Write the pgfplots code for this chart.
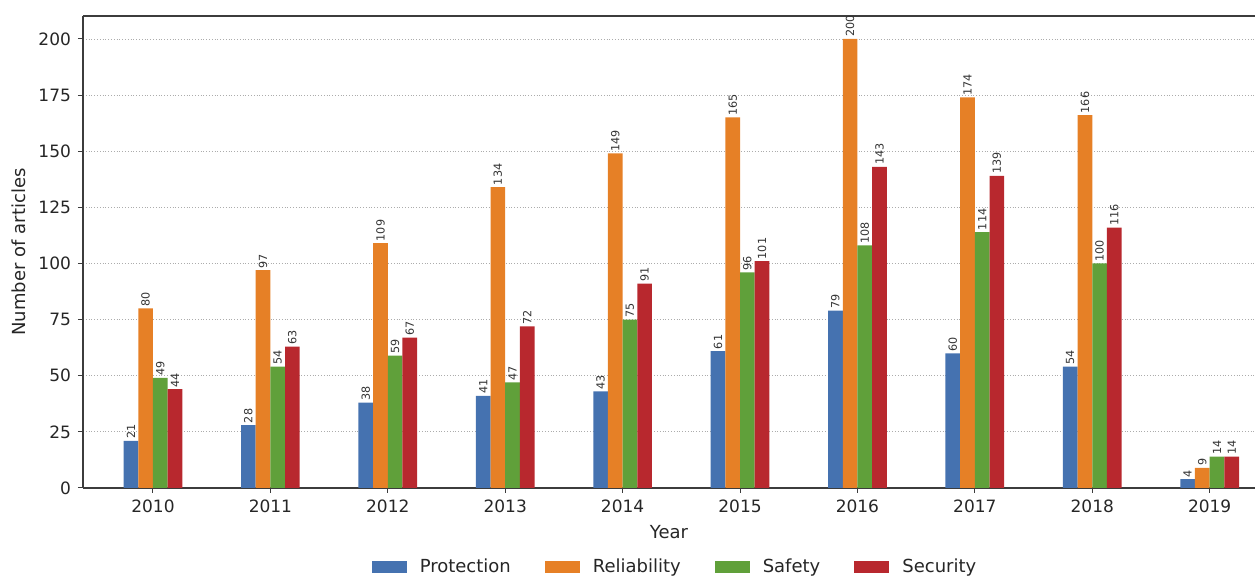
\documentclass[border=0pt]{standalone}
\usepackage{pgfplots}
\pgfplotsset{compat=1.18}
\usepackage{fontspec}
\setmainfont{DejaVu Sans}
\definecolor{cP}{RGB}{69,114,176}
\definecolor{cR}{RGB}{230,128,38}
\definecolor{cS}{RGB}{96,160,58}
\definecolor{cX}{RGB}{184,40,46}
\definecolor{axc}{RGB}{60,60,60}
\begin{document}
\begin{tikzpicture}
\path[use as bounding box] (-41.5pt,-44.5pt) rectangle (586pt,244pt);
\begin{axis}[
  scale only axis,
  width=586pt, height=236pt,
  ybar=0pt, bar width=7.34pt,
  xmin=-0.596, xmax=9.386,
  ymin=0, ymax=210.2,
  xtick={0,...,9},
  xticklabels={2010,2011,2012,2013,2014,2015,2016,2017,2018,2019},
  ytick={0,25,...,200},
  axis x line*=box,
  axis y line*=left,
  axis line style={axc, line width=0.6pt},
  tick style={axc, line width=0.5pt},
  tick align=outside,
  major tick length=2.5pt,
  xtick pos=bottom, ytick pos=left,
  ymajorgrids,
  grid style={densely dotted, gray!65, line width=0.4pt},
  /pgf/number format/assume math mode=true,
  tick label style={font=\fontsize{8.5}{9.5}\selectfont, text=black!85},
  xlabel={Year}, ylabel={Number of articles},
  label style={font=\fontsize{9}{10}\selectfont, text=black!85},
  xlabel style={yshift=0.5pt},
  ylabel style={yshift=-0.5pt},
  nodes near coords,
  every node near coord/.append style={rotate=90, anchor=west, font=\fontsize{5.6}{6}\selectfont, text=black!80, inner sep=0.8pt},
  legend columns=4,
  legend style={at={(0.506,-0.167)}, anchor=center, draw=none, fill=none,
    font=\fontsize{9}{10}\selectfont, text=black!85,
    /tikz/every odd column/.append style={column sep=4.5pt},
    /tikz/every even column/.append style={column sep=15pt}},
  legend image code/.code={\fill[#1] (0pt,-3pt) rectangle (17.5pt,3pt);},
]
\addplot[fill=cP, draw=none] coordinates {(0,21)(1,28)(2,38)(3,41)(4,43)(5,61)(6,79)(7,60)(8,54)(9,4)};
\addplot[fill=cR, draw=none] coordinates {(0,80)(1,97)(2,109)(3,134)(4,149)(5,165)(6,200)(7,174)(8,166)(9,9)};
\addplot[fill=cS, draw=none] coordinates {(0,49)(1,54)(2,59)(3,47)(4,75)(5,96)(6,108)(7,114)(8,100)(9,14)};
\addplot[fill=cX, draw=none] coordinates {(0,44)(1,63)(2,67)(3,72)(4,91)(5,101)(6,143)(7,139)(8,116)(9,14)};
\legend{Protection,Reliability,Safety,Security}
\end{axis}
\end{tikzpicture}
\end{document}
